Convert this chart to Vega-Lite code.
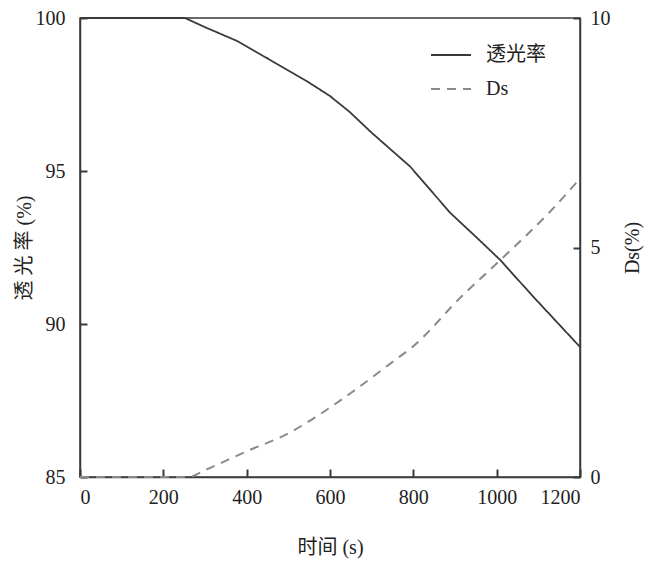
{
  "$schema": "https://vega.github.io/schema/vega-lite/v6.json",
  "width": 500,
  "height": 459,
  "autosize": "none",
  "padding": {"left": 80, "top": 18, "right": 68, "bottom": 88},
  "background": "white",
  "view": {"stroke": "#3a3a3a", "strokeWidth": 1.5},
  "data": {
    "values": [
      {"t": 0, "series": "透光率", "v": 100},
      {"t": 100, "series": "透光率", "v": 100},
      {"t": 200, "series": "透光率", "v": 100},
      {"t": 252, "series": "透光率", "v": 100},
      {"t": 300, "series": "透光率", "v": 99.7},
      {"t": 377, "series": "透光率", "v": 99.25},
      {"t": 450, "series": "透光率", "v": 98.68},
      {"t": 545, "series": "透光率", "v": 97.93},
      {"t": 600, "series": "透光率", "v": 97.45},
      {"t": 648, "series": "透光率", "v": 96.92},
      {"t": 700, "series": "透光率", "v": 96.25},
      {"t": 792, "series": "透光率", "v": 95.15},
      {"t": 888, "series": "透光率", "v": 93.64},
      {"t": 950, "series": "透光率", "v": 92.85},
      {"t": 1008, "series": "透光率", "v": 92.1},
      {"t": 1088, "series": "透光率", "v": 90.89},
      {"t": 1200, "series": "透光率", "v": 89.25},
      {"t": 0, "series": "Ds", "v": 0},
      {"t": 100, "series": "Ds", "v": 0},
      {"t": 200, "series": "Ds", "v": 0},
      {"t": 260, "series": "Ds", "v": 0},
      {"t": 300, "series": "Ds", "v": 0.15},
      {"t": 400, "series": "Ds", "v": 0.56},
      {"t": 500, "series": "Ds", "v": 0.95},
      {"t": 568, "series": "Ds", "v": 1.32},
      {"t": 650, "series": "Ds", "v": 1.83},
      {"t": 752, "series": "Ds", "v": 2.52},
      {"t": 800, "series": "Ds", "v": 2.85},
      {"t": 912, "series": "Ds", "v": 3.9},
      {"t": 1008, "series": "Ds", "v": 4.72},
      {"t": 1128, "series": "Ds", "v": 5.78},
      {"t": 1200, "series": "Ds", "v": 6.5}
    ]
  },
  "layer": [
    {
      "transform": [{"filter": "datum.series === '透光率'"}],
      "mark": {"type": "line", "strokeWidth": 1.8},
      "encoding": {
        "x": {
          "field": "t",
          "type": "quantitative",
          "scale": {"domain": [0, 1200], "nice": false},
          "axis": {
            "orient": "bottom",
            "title": "时间 (s)",
            "values": [0, 200, 400, 600, 800, 1000, 1200],
            "format": "d",
            "tickSize": -8,
            "tickColor": "#3a3a3a",
            "tickWidth": 2,
            "domainColor": "#3a3a3a",
            "domainWidth": 1.5,
            "labelFont": "Liberation Serif",
            "labelFontSize": 20,
            "labelColor": "#222",
            "labelPadding": 18,
            "titleFont": "Liberation Serif, Noto Sans CJK SC",
            "titleFontSize": 20,
            "titleFontWeight": "normal",
            "titleColor": "#222",
            "titlePadding": 30
          }
        },
        "y": {
          "field": "v",
          "type": "quantitative",
          "scale": {"domain": [85, 100], "nice": false},
          "axis": {
            "orient": "left",
            "title": "透 光 率 (%)",
            "values": [85, 90, 95, 100],
            "tickSize": -7,
            "tickColor": "#3a3a3a",
            "tickWidth": 2,
            "domainColor": "#3a3a3a",
            "domainWidth": 1.5,
            "labelFont": "Liberation Serif",
            "labelFontSize": 20,
            "labelColor": "#222",
            "labelPadding": 22,
            "titleFont": "Liberation Serif, Noto Sans CJK SC",
            "titleFontSize": 20,
            "titleFontWeight": "normal",
            "titleColor": "#222",
            "titlePadding": 1
          }
        },
        "color": {
          "field": "series",
          "type": "nominal",
          "scale": {"domain": ["透光率", "Ds"], "range": ["#3a3a3a", "#8a8a8a"]},
          "legend": {
            "title": null,
            "orient": "none",
            "legendX": 350,
            "legendY": 16,
            "symbolType": "stroke",
            "symbolSize": 1600,
            "symbolStrokeWidth": 2,
            "labelFont": "Liberation Serif, Noto Sans CJK SC",
            "labelFontSize": 20,
            "labelColor": "#222",
            "labelOffset": 14,
            "rowPadding": 3,
            "padding": 0
          }
        },
        "strokeDash": {
          "field": "series",
          "type": "nominal",
          "scale": {"domain": ["透光率", "Ds"], "range": [[1, 0], [9, 7]]},
          "legend": null
        }
      }
    },
    {
      "transform": [{"filter": "datum.series === 'Ds'"}],
      "mark": {"type": "line", "strokeWidth": 2, "interpolate": "monotone"},
      "encoding": {
        "x": {
          "field": "t",
          "type": "quantitative",
          "scale": {"domain": [0, 1200], "nice": false}
        },
        "y": {
          "field": "v",
          "type": "quantitative",
          "scale": {"domain": [0, 10], "nice": false},
          "axis": {
            "orient": "right",
            "title": "Ds(%)",
            "values": [0, 5, 10],
            "tickSize": -7,
            "tickColor": "#3a3a3a",
            "tickWidth": 2,
            "domainColor": "#3a3a3a",
            "domainWidth": 1.5,
            "labelFont": "Liberation Serif",
            "labelFontSize": 20,
            "labelColor": "#222",
            "labelPadding": 17,
            "titleFont": "Liberation Serif, Noto Sans CJK SC",
            "titleFontSize": 20,
            "titleFontWeight": "normal",
            "titleColor": "#222",
            "titleAngle": 270,
            "titlePadding": 32
          }
        },
        "color": {
          "field": "series",
          "type": "nominal",
          "scale": {"domain": ["透光率", "Ds"], "range": ["#3a3a3a", "#8a8a8a"]}
        },
        "strokeDash": {
          "field": "series",
          "type": "nominal",
          "scale": {"domain": ["透光率", "Ds"], "range": [[1, 0], [9, 7]]},
          "legend": null
        }
      }
    }
  ],
  "resolve": {"scale": {"y": "independent"}},
  "config": {
    "axis": {"gridOpacity": 0}
  }
}
